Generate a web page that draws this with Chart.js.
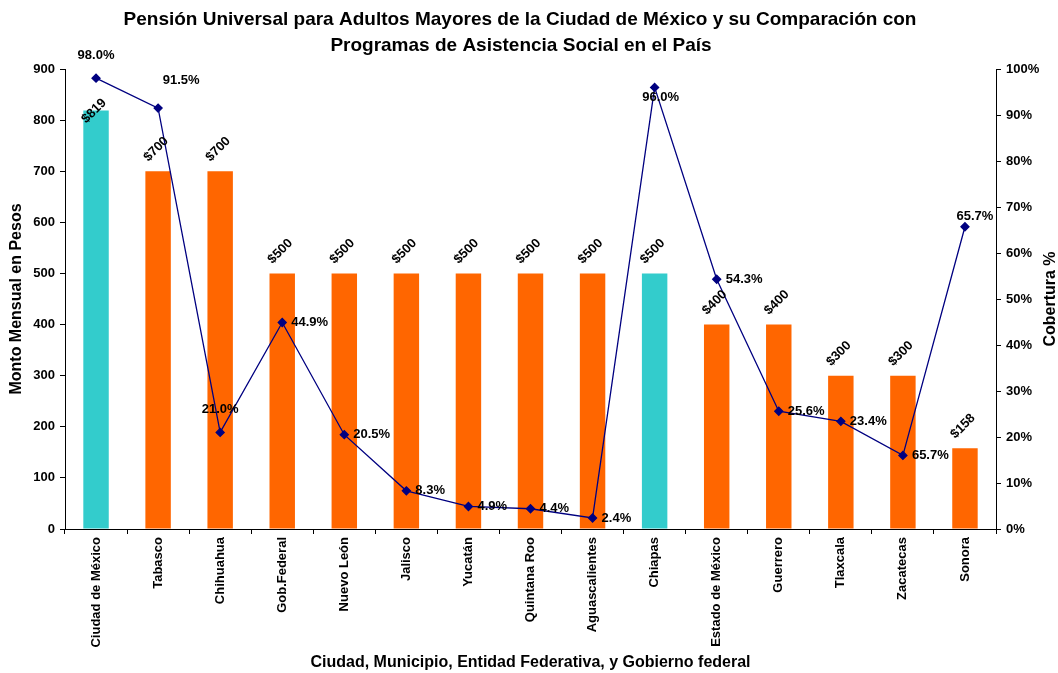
<!DOCTYPE html>
<html>
<head>
<meta charset="utf-8">
<script src="https://cdn.jsdelivr.net/npm/chart.js@4.4.0/dist/chart.umd.min.js"></script>
<style>
  body { margin: 0; background: #fff; }
  #wrap { width: 1058px; height: 673px; }
</style>
</head>
<body>
<div id="wrap"><canvas id="chart"></canvas></div>
<script>
// Data
const categories = ['Ciudad de México', 'Tabasco', 'Chihuahua', 'Gob.Federal', 'Nuevo León', 'Jalisco', 'Yucatán',
    'Quintana Roo', 'Aguascalientes', 'Chiapas', 'Estado de México', 'Guerrero', 'Tlaxcala', 'Zacatecas', 'Sonora'];
const montoMensual = [819, 700, 700, 500, 500, 500, 500, 500, 500, 500, 400, 400, 300, 300, 158];
const cobertura = [98.0, 91.5, 21.0, 44.9, 20.5, 8.3, 4.9, 4.4, 2.4, 96.0, 54.3, 25.6, 23.4, 16.0, 65.7];
// labels as printed in the original (Zacatecas shows 65.7%)
const coberturaLabels = ['98.0%', '91.5%', '21.0%', '44.9%', '20.5%', '8.3%', '4.9%', '4.4%', '2.4%',
    '96.0%', '54.3%', '25.6%', '23.4%', '65.7%', '65.7%'];
const yTicksLeft = [0, 100, 200, 300, 400, 500, 600, 700, 800, 900];

// where each line label sits relative to its point
const labelPos = ['above', 'aboveRight', 'above', 'right', 'right', 'right', 'right', 'right', 'right',
    'below', 'right', 'right', 'right', 'right', 'upRight'];

const CYAN = '#33CCCC';
const ORANGE = '#FF6600';
const NAVY = '#000080';
const FONT = "'Liberation Sans', Arial, sans-serif";

Chart.defaults.font.family = FONT;
Chart.defaults.color = '#000';

// Titles + value labels for bars and line points
const valueLabels = {
    id: 'valueLabels',
    afterDatasetsDraw(chart) {
        const ctx = chart.ctx;
        const area = chart.chartArea;
        ctx.save();
        ctx.font = 'bold 13px ' + FONT;
        ctx.fillStyle = '#000';

        // bars: rotated -45deg above each bar
        chart.getDatasetMeta(1).data.forEach((bar, i) => {
            ctx.save();
            ctx.translate(bar.x - 2, Math.max(bar.y - 22, area.top + 42));
            ctx.rotate(-Math.PI / 4);
            ctx.textAlign = 'center';
            ctx.textBaseline = 'middle';
            ctx.fillText('$' + montoMensual[i], 0, 0);
            ctx.restore();
        });

        // line points
        chart.getDatasetMeta(0).data.forEach((pt, i) => {
            const txt = coberturaLabels[i];
            let x = pt.x, y = pt.y;
            ctx.textBaseline = 'middle';
            ctx.textAlign = 'center';
            if (labelPos[i] === 'above') {
                y -= 23;
            } else if (labelPos[i] === 'aboveRight') {
                x += 23; y -= 28;
            } else if (labelPos[i] === 'below') {
                x += 6; y += 10;
            } else if (labelPos[i] === 'upRight') {
                x += 10; y -= 10;
            } else {
                ctx.textAlign = 'left'; x += 9;
            }
            ctx.fillText(txt, x, y);
        });
        ctx.restore();
    },
    afterDraw(chart) {
        const ctx = chart.ctx;
        const area = chart.chartArea;
        const midY = (area.top + area.bottom) / 2;
        ctx.save();
        ctx.fillStyle = '#000';
        ctx.textAlign = 'center';
        ctx.textBaseline = 'middle';

        // main title
        ctx.font = 'bold 19px ' + FONT;
        ctx.fillText('Pensión Universal para Adultos Mayores de la Ciudad de México y su Comparación con', 520, 20);
        ctx.fillText('Programas de Asistencia Social en el País', 521, 46);

        // x axis title
        ctx.font = 'bold 16px ' + FONT;
        ctx.fillText('Ciudad, Municipio, Entidad Federativa, y Gobierno federal', (area.left + area.right) / 2, 663);

        // left axis title
        ctx.save();
        ctx.translate(17, midY);
        ctx.rotate(-Math.PI / 2);
        ctx.fillText('Monto Mensual en Pesos', 0, 0);
        ctx.restore();

        // right axis title (reads bottom to top)
        ctx.save();
        ctx.translate(1051, midY);
        ctx.rotate(-Math.PI / 2);
        ctx.fillText('Cobertura %', 0, 0);
        ctx.restore();

        ctx.restore();
    }
};

new Chart(document.getElementById('chart'), {
    type: 'bar',
    data: {
        labels: categories,
        datasets: [
            {
                type: 'line',
                label: 'Cobertura %',
                data: cobertura,
                yAxisID: 'y2',
                borderColor: NAVY,
                backgroundColor: NAVY,
                borderWidth: 1.3,
                pointStyle: 'rectRot',
                pointRadius: 4,
                pointBackgroundColor: NAVY,
                pointBorderColor: NAVY,
                tension: 0,
                order: 0
            },
            {
                label: 'Monto Mensual',
                data: montoMensual,
                yAxisID: 'y',
                backgroundColor: montoMensual.map((v, i) => (i === 0 || i === 9) ? CYAN : ORANGE),
                categoryPercentage: 1.0,
                barPercentage: 0.41,
                order: 1
            }
        ]
    },
    options: {
        responsive: true,
        maintainAspectRatio: false,
        animation: false,
        layout: { padding: { left: 0, right: 0, top: 69, bottom: 0 } },
        plugins: {
            legend: { display: false },
            tooltip: { enabled: false },
            title: { display: false }
        },
        scales: {
            x: {
                afterFit: (axis) => { axis.height = 144; },
                ticks: { maxRotation: 90, minRotation: 90, font: { size: 13, weight: 'bold' }, padding: 3 },
                grid: { display: true, drawOnChartArea: false, color: '#000', tickLength: 5 },
                border: { color: '#000', width: 1 }
            },
            y: {
                position: 'left',
                min: 0,
                max: 900,
                afterFit: (axis) => { axis.width = 65; },
                afterBuildTicks: (axis) => { axis.ticks = yTicksLeft.map(v => ({ value: v })); },
                ticks: { font: { size: 13, weight: 'bold' }, padding: 5 },
                grid: { display: true, drawOnChartArea: false, color: '#000', tickLength: 5 },
                border: { color: '#000', width: 1 }
            },
            y2: {
                position: 'right',
                min: 0,
                max: 100,
                afterFit: (axis) => { axis.width = 62; },
                ticks: { stepSize: 10, callback: v => v + '%', font: { size: 13, weight: 'bold' }, padding: 5 },
                grid: { display: true, drawOnChartArea: false, color: '#000', tickLength: 5 },
                border: { color: '#000', width: 1 }
            }
        }
    },
    plugins: [valueLabels]
});
</script>
</body>
</html>
